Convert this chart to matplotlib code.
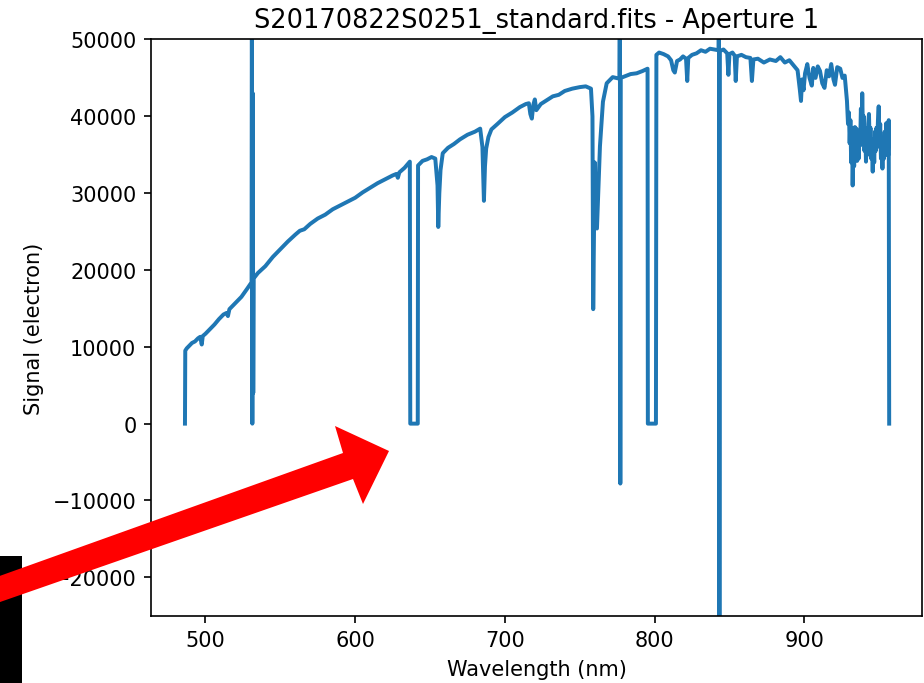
import matplotlib
matplotlib.use("Agg")
import matplotlib.pyplot as plt
import matplotlib.patches as mpatches

# --- spectrum (wavelength in nm, signal in electrons) ---
wavelength_nm = [
    486.3, 486.5, 487.5, 489.0, 491.0, 493.0, 495.0, 496.5, 497.5, 498.2,
    500.0, 503.0, 506.0, 509.0, 512.0, 514.0, 515.0, 516.0, 520.0, 524.0,
    528.0, 530.8, 531.0, 531.3, 531.6, 531.9, 532.2, 535.0, 540.0, 545.0,
    550.0, 555.0, 560.0, 563.0, 566.0, 570.0, 575.0, 580.0, 585.0, 590.0,
    595.0, 600.0, 605.0, 610.0, 615.0, 620.0, 625.0, 627.5, 628.5, 629.5,
    633.0, 636.5, 636.8, 641.8, 642.0, 645.0, 648.0, 651.0, 653.5, 655.0,
    655.5, 656.2, 657.0, 658.5, 662.0, 666.0, 670.0, 675.0, 680.0, 683.5,
    685.0, 686.0, 686.7, 687.5, 689.0, 691.0, 695.0, 700.0, 705.0, 710.0,
    714.0, 716.0, 717.0, 718.0, 719.0, 720.0, 721.0, 722.5, 724.0, 728.0,
    732.0, 736.0, 740.0, 745.0, 750.0, 754.0, 757.5, 758.5, 759.0, 760.0,
    761.5, 763.5, 765.5, 768.0, 772.0, 776.5, 776.8, 777.1, 777.4, 780.0,
    784.0, 788.0, 792.0, 795.3, 795.5, 800.9, 801.2, 803.0, 806.0, 809.0,
    811.0, 812.5, 813.5, 815.0, 817.0, 819.0, 821.0, 821.8, 822.5, 825.0,
    828.0, 831.0, 834.0, 837.0, 840.0, 842.7, 843.0, 843.3, 843.6, 846.0,
    848.5, 849.3, 850.0, 852.0, 853.5, 854.2, 855.0, 858.0, 861.0, 864.0,
    865.0, 866.0, 869.0, 873.0, 877.0, 881.0, 884.0, 887.0, 890.0, 893.0,
    895.5, 897.0, 897.8, 898.5, 899.5, 900.5, 902.0, 903.5, 905.0, 906.0,
    907.5, 909.0, 910.5, 912.0, 913.5, 915.0, 916.5, 918.0, 919.5, 920.5,
    922.0, 924.0, 925.5, 927.0, 928.5, 929.2, 929.8, 930.3, 930.8, 931.3,
    931.8, 932.3, 932.8, 933.3, 933.8, 934.3, 934.8, 935.3, 935.8, 936.3,
    936.8, 937.3, 937.8, 938.3, 938.7, 939.2, 939.7, 940.2, 940.7, 941.2,
    941.7, 942.2, 942.7, 943.2, 943.7, 944.2, 944.7, 945.2, 945.7, 946.2,
    946.7, 947.2, 947.7, 948.2, 948.7, 949.2, 949.7, 950.2, 950.7, 951.2,
    951.7, 952.2, 952.7, 953.2, 953.7, 954.2, 954.7, 955.2, 955.6, 956.0,
    956.4, 956.7,
]
signal_e = [
    0, 9500, 9800, 10100, 10500, 10700, 11100, 11300, 10300, 11400,
    11700, 12300, 12900, 13600, 14200, 14400, 14000, 14900, 15700, 16500,
    17600, 18400, 60000, 0, 43000, 4000, 18900, 19600, 20500, 21700,
    22700, 23700, 24600, 25100, 25300, 26000, 26700, 27200, 27900, 28400,
    28900, 29400, 30100, 30700, 31300, 31800, 32300, 32500, 32000, 32700,
    33300, 34100, 0, 0, 33600, 34200, 34400, 34700, 34500, 31000,
    25600, 30000, 33000, 35200, 35900, 36400, 37000, 37600, 38000, 38400,
    36000, 29000, 33500, 35800, 37300, 38300, 39000, 39900, 40500, 41200,
    41600, 41700, 40300, 39700, 41500, 42200, 40800, 41200, 41600, 42100,
    42600, 42800, 43300, 43600, 43800, 43900, 43600, 40000, 14900, 34000,
    25400, 36100, 41900, 44300, 45100, 44900, 60000, -7800, 45000, 45200,
    45500, 45600, 45900, 46200, 0, 0, 48000, 48300, 48100, 47800,
    47300, 46000, 45700, 47200, 47400, 47800, 47500, 44600, 47600, 48000,
    48200, 48600, 48400, 48800, 48700, 48600, 60000, -30000, 48500, 48700,
    48200, 45400, 48100, 48300, 47900, 44600, 47800, 48000, 47700, 47600,
    44600, 47400, 47500, 47000, 47400, 47200, 47700, 47000, 47300, 46600,
    46000, 43500, 42000, 44800, 43400, 45600, 46800, 45000, 44000, 46300,
    45000, 46500, 45900, 44300, 43700, 46000, 45200, 46800, 44800, 44100,
    46400, 46200, 45000, 45300, 42000, 39000, 40500, 36500, 39500, 34000,
    38500, 31000, 36000, 33500, 38600, 35000, 38400, 34200, 37500, 34500,
    38000, 36200, 41000, 38000, 43000, 37500, 40000, 35500, 38500, 34100,
    37000, 35000, 39000, 40300, 36000, 38500, 34500, 36500, 32800, 37000,
    34000, 38000, 35500, 38500, 36000, 39500, 41300, 37000, 39000, 34500,
    36500, 33200, 37000, 34500, 38000, 35000, 39100, 35500, 37500, 34900,
    39500, 0,
]

fig = plt.figure(figsize=(6.16, 4.56), dpi=150)
ax = fig.add_axes([0.1634, 0.0984, 0.8344, 0.8424])

ax.plot(wavelength_nm, signal_e, color="#1f77b4", linewidth=1.9)
ax.set_xlim(463.6, 978.6)
ax.set_ylim(-25000, 50000)
ax.set_xlabel("Wavelength (nm)")
ax.set_ylabel("Signal (electron)")
ax.set_title("S20170822S0251_standard.fits - Aperture 1", fontsize=12.3)

# --- overlay in pixel coordinates for the screenshot markup ---
over = fig.add_axes([0, 0, 1, 1])
over.set_xlim(0, 924)
over.set_ylim(684, 0)
over.axis("off")

# black block at the lower left edge
over.add_patch(mpatches.Rectangle((0, 557), 22, 130, facecolor="black", edgecolor="none"))

# red arrow pointing at the gap near 640 nm
arrow_pts = [(-20, 584), (343, 454), (335, 427), (389, 452),
             (363, 505), (353, 480), (-20, 610)]
over.add_patch(mpatches.Polygon(arrow_pts, closed=True, facecolor="red", edgecolor="none"))

fig.savefig("out.png", dpi=150)
